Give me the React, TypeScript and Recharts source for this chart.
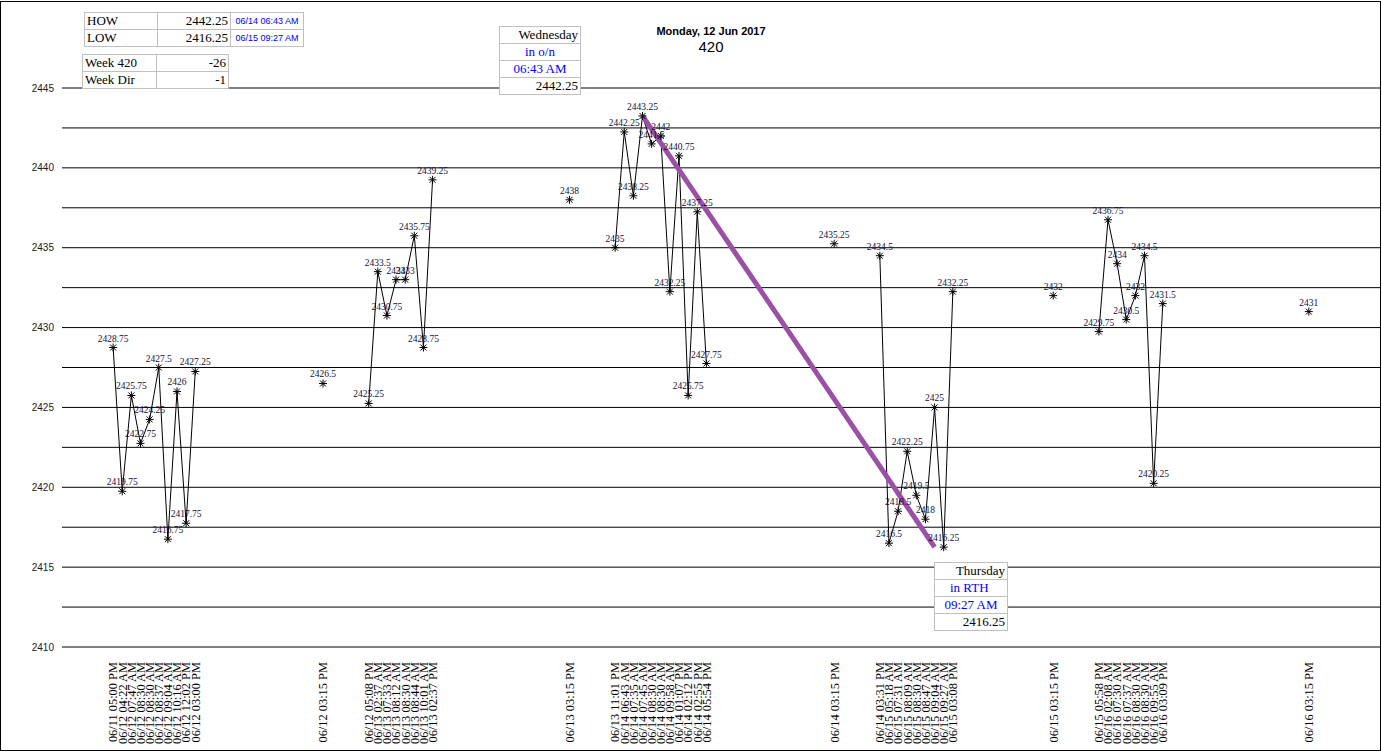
import React from "react";
import {
  CartesianGrid,
  LabelList,
  Line,
  LineChart,
  ReferenceLine,
  XAxis,
  YAxis,
} from "recharts";

// bar times shown on the x axis, in order
const timeLabels = [
  "06/11 05:00 PM", "06/12 04:22 AM", "06/12 07:47 AM", "06/12 08:30 AM", "06/12 08:30 AM",
  "06/12 08:37 AM", "06/12 09:04 AM", "06/12 10:16 AM", "06/12 12:02 PM", "06/12 03:00 PM",
  "06/12 03:15 PM",
  "06/12 05:08 PM", "06/13 02:37 AM", "06/13 07:33 AM", "06/13 08:12 AM", "06/13 08:30 AM",
  "06/13 08:44 AM", "06/13 10:01 AM", "06/13 02:37 PM",
  "06/13 03:15 PM",
  "06/13 11:01 PM", "06/14 06:43 AM", "06/14 07:35 AM", "06/14 07:45 AM", "06/14 08:30 AM",
  "06/14 08:30 AM", "06/14 09:58 AM", "06/14 01:07 PM", "06/14 02:12 PM", "06/14 02:55 PM",
  "06/14 05:54 PM",
  "06/14 03:15 PM",
  "06/14 03:31 PM", "06/15 05:18 AM", "06/15 07:31 AM", "06/15 08:09 AM", "06/15 08:30 AM",
  "06/15 08:47 AM", "06/15 09:04 AM", "06/15 09:27 AM", "06/15 03:08 PM",
  "06/15 03:15 PM",
  "06/15 05:58 PM", "06/16 02:08 AM", "06/16 07:30 AM", "06/16 07:37 AM", "06/16 08:30 AM",
  "06/16 08:30 AM", "06/16 09:55 AM", "06/16 03:09 PM",
  "06/16 03:15 PM",
];

const prices = [
  2428.75, 2419.75, 2425.75, 2422.75, 2424.25, 2427.5, 2416.75, 2426, 2417.75, 2427.25,
  2426.5,
  2425.25, 2433.5, 2430.75, 2433, 2433, 2435.75, 2428.75, 2439.25,
  2438,
  2435, 2442.25, 2438.25, 2443.25, 2441.5, 2442, 2432.25, 2440.75, 2425.75, 2437.25, 2427.75,
  2435.25,
  2434.5, 2416.5, 2418.5, 2422.25, 2419.5, 2418, 2425, 2416.25, 2432.25,
  2432,
  2429.75, 2436.75, 2434, 2430.5, 2432, 2434.5, 2420.25, 2431.5,
  2431,
];

// how many points in each run, and how many empty slots sit before it
const runSizes = [10, 1, 8, 1, 11, 1, 9, 1, 8, 1];
const emptyBefore = [0, 13, 4, 14, 4, 13, 4, 10, 4, 15];

const yTicks = [2410, 2412.5, 2415, 2417.5, 2420, 2422.5, 2425, 2427.5, 2430, 2432.5, 2435, 2437.5, 2440, 2442.5, 2445];

type Row = { slot: number; price: number | null; label: string };

const rows: Row[] = [];
{
  let slot = 0;
  let k = 0;
  runSizes.forEach((size, r) => {
    if (emptyBefore[r] > 0) {
      rows.push({ slot, price: null, label: "" });
      slot += emptyBefore[r];
    }
    for (let i = 0; i < size; i++) {
      rows.push({ slot, price: prices[k], label: timeLabels[k] });
      slot++;
      k++;
    }
  });
}

const pointRows = rows.filter((r) => r.price !== null);
const tickSlots = pointRows.map((r) => r.slot);
const labelBySlot = new Map(pointRows.map((r) => [r.slot, r.label]));
const high = pointRows.reduce((a, b) => ((b.price as number) > (a.price as number) ? b : a));
const low = pointRows.reduce((a, b) => ((b.price as number) < (a.price as number) ? b : a));

const serif = "'Liberation Serif', 'Times New Roman', serif";
const sans = "'Liberation Sans', Arial, sans-serif";

const XTick = (props: any) => {
  const { x, payload } = props;
  return (
    <g transform={`translate(${x},662) rotate(-90)`}>
      <text x={0} y={0} dy="0.35em" textAnchor="end" fontFamily={serif} fontSize={12.4} fill="#000">
        {labelBySlot.get(payload.value) ?? ""}
      </text>
    </g>
  );
};

const Star = (props: any) => {
  const { cx, cy, payload, index } = props;
  if (payload.price === null || cx == null) return <g key={`s-${index}`} />;
  const r = 4;
  const d = 3;
  return (
    <g key={`s-${index}`} stroke="#000" strokeWidth={1}>
      <line x1={cx} y1={cy - r} x2={cx} y2={cy + r} />
      <line x1={cx - r} y1={cy} x2={cx + r} y2={cy} />
      <line x1={cx - d} y1={cy - d} x2={cx + d} y2={cy + d} />
      <line x1={cx - d} y1={cy + d} x2={cx + d} y2={cy - d} />
    </g>
  );
};

const PriceLabel = (props: any) => {
  const { x, y, value } = props;
  if (value === null || value === undefined) return null;
  return (
    <text x={x} y={y - 6} textAnchor="middle" fontFamily={serif} fontSize={9.5} fill="#10103a">
      {value}
    </text>
  );
};

const cell: React.CSSProperties = {
  border: "1px solid #c0c0c0",
  padding: "0 2px",
  height: 16,
  lineHeight: "16px",
  whiteSpace: "nowrap",
  overflow: "hidden",
};

const Box = ({ left, top, width, children }: { left: number; top: number; width: number; children: React.ReactNode }) => (
  <table
    style={{
      position: "absolute",
      left,
      top,
      width,
      borderCollapse: "collapse",
      background: "#fff",
      tableLayout: "fixed",
    }}
  >
    <tbody>{children}</tbody>
  </table>
);

export default function App() {
  return (
    <div style={{ position: "relative", width: 1382, height: 754, background: "#fff" }}>
      <style>{`body{margin:0}`}</style>
      <div
        style={{
          position: "absolute",
          left: 0,
          top: 1,
          width: 1381,
          height: 750,
          border: "1px solid #000",
          boxSizing: "border-box",
        }}
      />
      <LineChart
        width={1382}
        height={754}
        data={rows}
        margin={{ top: 88, right: 2, bottom: 0, left: 0 }}
      >
        <CartesianGrid vertical={false} stroke="#000" />
        <XAxis
          dataKey="slot"
          type="number"
          domain={[-5.6, 138.8]}
          allowDataOverflow
          ticks={tickSlots}
          interval={0}
          tick={<XTick />}
          tickLine={false}
          axisLine={false}
          height={107}
        />
        <YAxis
          type="number"
          domain={[2410, 2445]}
          ticks={yTicks}
          interval={0}
          tickFormatter={(v: number) => (v % 5 === 0 ? String(v) : "")}
          tick={{ fontSize: 10, fill: "#1a1a1a", fontFamily: sans }}
          tickMargin={2}
          axisLine={false}
          tickLine={false}
          width={62}
        />
        <Line
          dataKey="price"
          type="linear"
          stroke="#000"
          strokeWidth={1}
          dot={<Star />}
          activeDot={false}
          connectNulls={false}
          isAnimationActive={false}
        >
          <LabelList dataKey="price" content={<PriceLabel />} />
        </Line>
        <ReferenceLine
          segment={[
            { x: high.slot, y: high.price as number },
            { x: low.slot - 1, y: low.price as number },
          ]}
          stroke="#9b4fa6"
          strokeWidth={5}
          ifOverflow="visible"
        />
      </LineChart>

      <Box left={84} top={12} width={220}>
        <tr>
          <td style={{ ...cell, width: 68, fontFamily: serif, fontSize: 13 }}>HOW</td>
          <td style={{ ...cell, width: 68, fontFamily: serif, fontSize: 13, textAlign: "right" }}>2442.25</td>
          <td style={{ ...cell, fontFamily: sans, fontSize: 9, color: "#0000ff", textAlign: "center" }}>06/14 06:43 AM</td>
        </tr>
        <tr>
          <td style={{ ...cell, fontFamily: serif, fontSize: 13 }}>LOW</td>
          <td style={{ ...cell, fontFamily: serif, fontSize: 13, textAlign: "right" }}>2416.25</td>
          <td style={{ ...cell, fontFamily: sans, fontSize: 9, color: "#0000ff", textAlign: "center" }}>06/15 09:27 AM</td>
        </tr>
      </Box>

      <Box left={82} top={54} width={147}>
        <tr>
          <td style={{ ...cell, width: 69, fontFamily: serif, fontSize: 13 }}>Week 420</td>
          <td style={{ ...cell, fontFamily: serif, fontSize: 13, textAlign: "right" }}>-26</td>
        </tr>
        <tr>
          <td style={{ ...cell, fontFamily: serif, fontSize: 13 }}>Week Dir</td>
          <td style={{ ...cell, fontFamily: serif, fontSize: 13, textAlign: "right" }}>-1</td>
        </tr>
      </Box>

      <Box left={499} top={26} width={82}>
        <tr><td style={{ ...cell, fontFamily: serif, fontSize: 13, textAlign: "right" }}>Wednesday</td></tr>
        <tr><td style={{ ...cell, fontFamily: serif, fontSize: 13, color: "#0000ff", textAlign: "center" }}>in o/n</td></tr>
        <tr><td style={{ ...cell, fontFamily: serif, fontSize: 13, color: "#0000ff", textAlign: "center" }}>06:43 AM</td></tr>
        <tr><td style={{ ...cell, fontFamily: serif, fontSize: 13, textAlign: "right" }}>2442.25</td></tr>
      </Box>

      <Box left={934} top={562} width={74}>
        <tr><td style={{ ...cell, fontFamily: serif, fontSize: 13, textAlign: "right" }}>Thursday</td></tr>
        <tr><td style={{ ...cell, fontFamily: serif, fontSize: 13, color: "#0000ff", paddingLeft: 15 }}>in RTH</td></tr>
        <tr><td style={{ ...cell, fontFamily: serif, fontSize: 13, color: "#0000ff", textAlign: "center" }}>09:27 AM</td></tr>
        <tr><td style={{ ...cell, fontFamily: serif, fontSize: 13, textAlign: "right" }}>2416.25</td></tr>
      </Box>

      <div
        style={{
          position: "absolute",
          left: 611,
          top: 25,
          width: 200,
          textAlign: "center",
          fontFamily: sans,
          color: "#000",
        }}
      >
        <div style={{ fontSize: 11, fontWeight: 700, lineHeight: "13px" }}>Monday, 12 Jun 2017</div>
        <div style={{ fontSize: 15, lineHeight: "17px" }}>420</div>
      </div>
    </div>
  );
}
